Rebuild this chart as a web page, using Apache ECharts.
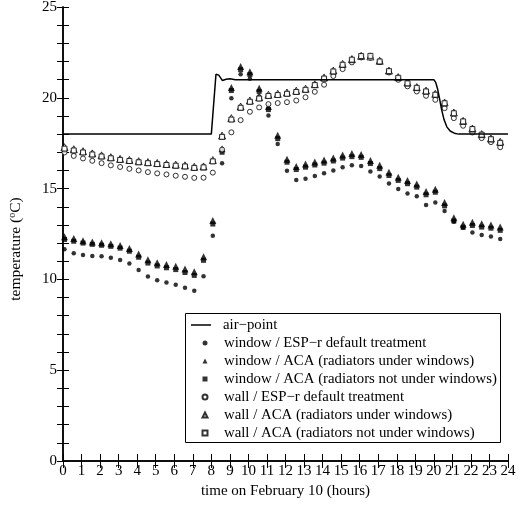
<!DOCTYPE html>
<html>
<head>
<meta charset="utf-8">
<script src="https://cdn.jsdelivr.net/npm/echarts@6.0.0/dist/echarts.min.js"></script>
<style>
  html, body { margin: 0; padding: 0; background: #fff; }
  #container { width: 522px; height: 512px; }
</style>
</head>
<body>
<div id="container"></div>
<script>
// data (hours, degC)
var hours = [0.08, 0.58, 1.08, 1.58, 2.08, 2.58, 3.08, 3.58, 4.08, 4.58, 5.08, 5.58,
    6.08, 6.58, 7.08, 7.58, 8.08, 8.58, 9.08, 9.58, 10.08, 10.58, 11.08, 11.58,
    12.08, 12.58, 13.08, 13.58, 14.08, 14.58, 15.08, 15.58, 16.08, 16.58, 17.08, 17.58,
    18.08, 18.58, 19.08, 19.58, 20.08, 20.58, 21.08, 21.58, 22.08, 22.58, 23.08, 23.58];

var windowEsp = [11.66, 11.44, 11.35, 11.29, 11.27, 11.19, 11.07, 10.88, 10.52, 10.16, 9.96, 9.83,
    9.7, 9.54, 9.37, 10.18, 12.4, 16.4, 19.98, 21.3, 21.05, 20.07, 19.03, 17.45,
    15.98, 15.48, 15.54, 15.7, 15.85, 15.99, 16.18, 16.29, 16.25, 15.94, 15.67, 15.28,
    14.98, 14.73, 14.58, 14.1, 14.23, 13.77, 13.18, 12.85, 12.58, 12.45, 12.36, 12.23];
var windowAcaUnder = [12.35, 12.25, 12.13, 12.06, 12.02, 11.96, 11.87, 11.7, 11.4, 11.08, 10.92, 10.82,
    10.72, 10.57, 10.42, 11.25, 13.25, 17.2, 20.57, 21.72, 21.43, 20.53, 19.52, 17.94,
    16.62, 16.22, 16.35, 16.46, 16.57, 16.69, 16.85, 16.93, 16.88, 16.55, 16.28, 15.9,
    15.63, 15.44, 15.26, 14.84, 14.97, 14.23, 13.4, 13.04, 13.15, 13.06, 13.0, 12.88];
var windowAcaNot = [12.2, 12.1, 12.0, 11.93, 11.88, 11.82, 11.72, 11.55, 11.22, 10.9, 10.74, 10.64,
    10.54, 10.38, 10.22, 11.05, 13.05, 17.0, 20.4, 21.55, 21.28, 20.35, 19.35, 17.75,
    16.45, 16.05, 16.18, 16.3, 16.4, 16.52, 16.68, 16.76, 16.72, 16.38, 16.1, 15.72,
    15.45, 15.27, 15.08, 14.66, 14.8, 14.05, 13.22, 12.87, 12.97, 12.88, 12.82, 12.7];
var wallEsp = [16.99, 16.8, 16.66, 16.53, 16.4, 16.28, 16.19, 16.09, 16.0, 15.91, 15.84, 15.78,
    15.71, 15.65, 15.59, 15.6, 15.88, 17.15, 18.1, 18.77, 19.23, 19.47, 19.65, 19.71,
    19.76, 19.85, 20.03, 20.33, 20.72, 21.2, 21.58, 21.95, 22.22, 22.2, 21.97, 21.39,
    20.99, 20.63, 20.35, 20.11, 19.89, 19.43, 18.88, 18.46, 18.09, 17.78, 17.56, 17.28];
var wallAcaUnder = [17.28, 17.17, 17.06, 16.94, 16.83, 16.73, 16.64, 16.58, 16.51, 16.46, 16.41, 16.36,
    16.32, 16.28, 16.2, 16.22, 16.57, 17.92, 18.88, 19.52, 19.85, 20.03, 20.17, 20.22,
    20.29, 20.39, 20.5, 20.75, 21.12, 21.5, 21.87, 22.13, 22.31, 22.28, 22.04, 21.5,
    21.14, 20.84, 20.59, 20.4, 20.22, 19.74, 19.19, 18.73, 18.31, 18.0, 17.76, 17.58];
var wallAcaNot = [17.2, 17.1, 16.99, 16.88, 16.77, 16.67, 16.58, 16.52, 16.45, 16.4, 16.35, 16.3,
    16.26, 16.22, 16.14, 16.17, 16.5, 17.85, 18.8, 19.45, 19.78, 19.96, 20.1, 20.15,
    20.22, 20.32, 20.44, 20.7, 21.06, 21.45, 21.82, 22.1, 22.3, 22.31, 22.0, 21.47,
    21.1, 20.8, 20.55, 20.35, 20.17, 19.7, 19.15, 18.7, 18.28, 17.97, 17.72, 17.52];

// air-point set point curve
var airHours = [0, 8.0, 8.25, 8.4, 8.6, 8.8, 9.0, 9.3, 20.0, 20.1, 20.2, 20.3, 20.42, 20.55, 20.7, 20.88, 21.1, 21.35, 24];
var airTemp = [18, 18, 21.3, 21.25, 20.95, 21.02, 21.05, 21.0, 21.0, 20.85, 20.5, 20.0, 19.35, 18.8, 18.4, 18.17, 18.05, 18.0, 18.0];

var legendNames = ['air\u2212point',
    'window / ESP\u2212r default treatment',
    'window / ACA (radiators under windows)',
    'window / ACA (radiators not under windows)',
    'wall / ESP\u2212r default treatment',
    'wall / ACA (radiators under windows)',
    'wall / ACA (radiators not under windows)'];

var dom = document.getElementById('container');
var myChart = echarts.init(dom, null, { renderer: 'canvas' });
var option;

var serif = "'Liberation Serif', 'Times New Roman', serif";

function pairs(xs, ys) {
    return xs.map(function (x, i) { return [x, ys[i]]; });
}

function markerSeries(name, values, symbol, size, filled) {
    return {
        name: name,
        type: 'scatter',
        data: pairs(hours, values),
        symbol: symbol,
        symbolSize: size,
        itemStyle: filled
            ? { color: '#000' }
            : { color: '#fff', borderColor: '#000', borderWidth: 1 },
        emphasis: { disabled: true }
    };
}

var tickAxis = {
    axisLine: { show: true, lineStyle: { color: '#000', width: 1.5 } },
    axisTick: { show: true, inside: true, length: 6, lineStyle: { color: '#000', width: 1 } },
    splitLine: { show: false }
};

var legendText = { fontFamily: serif, fontSize: 14.8, color: '#000', lineHeight: 16 };

option = {
    animation: false,
    backgroundColor: '#fff',
    grid: { left: 63, right: 14, top: 7, bottom: 51, outerBoundsMode: 'none' },
    // legend frame
    graphic: [{
        type: 'rect',
        left: 185, top: 313,
        shape: { width: 315, height: 129 },
        style: { fill: '#fff', stroke: '#000', lineWidth: 1 },
        z: 3
    }],
    legend: [
        {   // line entry
            orient: 'vertical',
            left: 191, top: 317,
            padding: 0,
            data: [{ name: legendNames[0], icon: 'rect' }],
            itemWidth: 20, itemHeight: 1.5,
            selectedMode: false,
            textStyle: Object.assign({ padding: [0, 0, 0, 7] }, legendText)
        },
        {   // marker entries
            orient: 'vertical',
            left: 201.5, top: 335,
            padding: 0,
            data: legendNames.slice(1),
            itemWidth: 5, itemHeight: 5, itemGap: 2,
            selectedMode: false,
            textStyle: Object.assign({ padding: [0, 0, 0, 11.5] }, legendText)
        }
    ],
    xAxis: [
        Object.assign({}, tickAxis, {
            type: 'value', min: 0, max: 24, interval: 1,
            name: 'time on February 10 (hours)',
            nameLocation: 'middle', nameGap: 22,
            nameTextStyle: { fontFamily: serif, fontSize: 15, color: '#000' },
            axisTick: { show: true, inside: true, length: 7, lineStyle: { color: '#000' } },
            axisLabel: { fontFamily: serif, fontSize: 15, color: '#000', margin: 3 }
        }),
        Object.assign({}, tickAxis, {
            type: 'value', min: 0, max: 24, interval: 1, position: 'top',
            axisTick: { show: true, inside: true, length: 7, lineStyle: { color: '#000' } },
            axisLabel: { show: false }
        })
    ],
    yAxis: [
        Object.assign({}, tickAxis, {
            type: 'value', min: 0, max: 25, interval: 1,
            name: 'temperature ({sup|o}C)',
            nameLocation: 'middle', nameGap: 38,
            nameTextStyle: {
                fontFamily: serif, fontSize: 15.5, color: '#000',
                padding: [0, 30, 0, 0],
                rich: { sup: { fontFamily: serif, fontSize: 10, color: '#000', padding: [0, 0, 8, 0] } }
            },
            axisLabel: {
                fontFamily: serif, fontSize: 15, color: '#000', margin: 6,
                formatter: function (v) { return v % 5 === 0 ? String(v) : ''; }
            }
        }),
        Object.assign({}, tickAxis, {
            type: 'value', min: 0, max: 25, interval: 1, position: 'right',
            axisLabel: { show: false }
        })
    ],
    series: [
        {
            name: legendNames[0],
            type: 'line',
            data: pairs(airHours, airTemp),
            symbol: 'none',
            lineStyle: { color: '#000', width: 1.5 },
            itemStyle: { color: '#000' },
            emphasis: { disabled: true }
        },
        markerSeries(legendNames[1], windowEsp, 'circle', 4.5, true),
        markerSeries(legendNames[2], windowAcaUnder, 'triangle', 7, true),
        markerSeries(legendNames[3], windowAcaNot, 'rect', 5, true),
        markerSeries(legendNames[4], wallEsp, 'circle', 5, false),
        markerSeries(legendNames[5], wallAcaUnder, 'triangle', 7, false),
        markerSeries(legendNames[6], wallAcaNot, 'rect', 5, false)
    ]
};

if (option && typeof option === 'object') {
    myChart.setOption(option);
}

window.addEventListener('resize', myChart.resize);
</script>
</body>
</html>
